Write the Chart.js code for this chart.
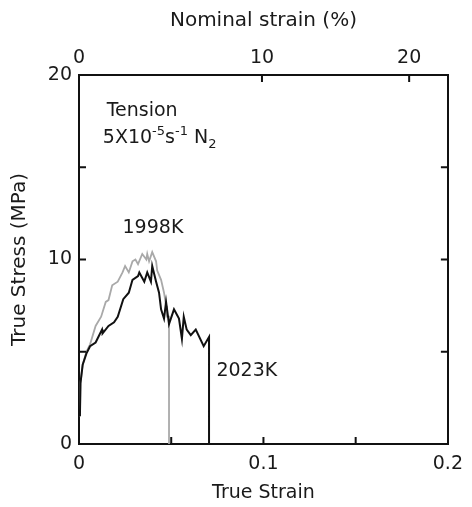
<!DOCTYPE html>
<html>
<head>
<meta charset="utf-8">
<script src="https://cdn.jsdelivr.net/npm/chart.js@4.4.0/dist/chart.umd.min.js"></script>
<style>
  body { margin: 0; background: #fff; }
  #wrap { width: 472px; height: 507px; }
</style>
</head>
<body>
<div id="wrap"><canvas id="stressChart"></canvas></div>
<script>
// --- data ---
const strain2023 = [0.0005, 0.0008, 0.002, 0.004, 0.006, 0.009, 0.0125, 0.0128, 0.016, 0.019, 0.021, 0.024, 0.027, 0.029, 0.032, 0.0327, 0.0354, 0.037, 0.039, 0.0397, 0.0418, 0.0434, 0.0445, 0.0461, 0.0472, 0.0488, 0.0515, 0.0542, 0.0558, 0.0568, 0.0584, 0.0606, 0.0633, 0.0676, 0.0705, 0.0705];
const stress2023 = [1.5, 3.3, 4.3, 4.9, 5.3, 5.5, 6.2, 6.0, 6.4, 6.6, 6.9, 7.85, 8.2, 8.9, 9.1, 9.3, 8.8, 9.3, 8.8, 9.65, 8.8, 8.2, 7.3, 6.8, 7.7, 6.5, 7.3, 6.8, 5.7, 6.9, 6.2, 5.9, 6.2, 5.3, 5.8, 0];

const strain1998 = [0.0005, 0.0008, 0.002, 0.004, 0.006, 0.009, 0.012, 0.0145, 0.016, 0.018, 0.021, 0.0236, 0.025, 0.027, 0.029, 0.0306, 0.032, 0.0343, 0.0365, 0.037, 0.038, 0.0397, 0.0418, 0.0424, 0.0445, 0.0461, 0.0472, 0.0477, 0.0488, 0.0488];
const stress1998 = [1.5, 3.3, 4.3, 5.0, 5.4, 6.4, 6.9, 7.7, 7.8, 8.6, 8.8, 9.3, 9.65, 9.3, 9.9, 10.0, 9.75, 10.3, 10.0, 10.3, 9.9, 10.4, 9.9, 9.4, 8.9, 8.2, 7.5, 6.9, 6.9, 0];

const strainMinor = [0.05, 0.1, 0.15];
const stressMinor = [5, 10, 15];
const nominalTickPos = [0, 0.0992, 0.179];   // where 0, 10, 20 % sit on the true-strain scale
const nominalTickLabels = ['0', '10', '20'];

const FONT = "'DejaVu Sans', sans-serif";
const INK = '#1a1a1a';

const toPoints = (xs, ys) => xs.map((x, i) => ({ x: x, y: ys[i] }));

// inward tick marks on all four sides
const innerTicks = {
    id: 'innerTicks',
    afterDraw: (chart) => {
        const { ctx, chartArea: a, scales } = chart;
        ctx.save();
        ctx.strokeStyle = '#111';
        ctx.lineWidth = 2;
        ctx.beginPath();
        strainMinor.forEach(v => {
            const px = scales.x.getPixelForValue(v);
            ctx.moveTo(px, a.bottom); ctx.lineTo(px, a.bottom - 7);
        });
        nominalTickPos.slice(1).forEach(v => {
            const px = scales.xTop.getPixelForValue(v);
            ctx.moveTo(px, a.top); ctx.lineTo(px, a.top + 7);
        });
        stressMinor.forEach(v => {
            const py = scales.y.getPixelForValue(v);
            ctx.moveTo(a.left, py); ctx.lineTo(a.left + 7, py);
            ctx.moveTo(a.right, py); ctx.lineTo(a.right - 7, py);
        });
        ctx.stroke();
        ctx.restore();
    }
};

// text inside the plot
const notes = {
    id: 'notes',
    afterDraw: (chart) => {
        const { ctx, scales } = chart;
        const X = v => scales.x.getPixelForValue(v);
        const Y = v => scales.y.getPixelForValue(v);
        const runs = (parts, x, y) => {
            parts.forEach(p => {
                ctx.font = p.size + 'px ' + FONT;
                ctx.fillText(p.t, x, y + p.dy);
                x += ctx.measureText(p.t).width;
            });
        };
        ctx.save();
        ctx.fillStyle = INK;
        ctx.textBaseline = 'alphabetic';
        ctx.textAlign = 'left';
        runs([{ t: 'Tension', size: 19, dy: 0 }], X(0.015), Y(17.8));
        runs([
            { t: '5X10', size: 19, dy: 0 },
            { t: '-5', size: 13, dy: -8 },
            { t: 's', size: 19, dy: 0 },
            { t: '-1', size: 13, dy: -8 },
            { t: ' N', size: 19, dy: 0 },
            { t: '2', size: 13, dy: 5 }
        ], X(0.0129), Y(16.3));
        runs([{ t: '1998K', size: 19, dy: 0 }], X(0.0236), Y(11.45));
        runs([{ t: '2023K', size: 19, dy: 0 }], X(0.0745), Y(3.7));
        ctx.restore();
    }
};

const ctx = document.getElementById('stressChart').getContext('2d');
new Chart(ctx, {
    type: 'line',
    data: {
        datasets: [
            {
                label: '2023K',
                data: toPoints(strain2023, stress2023),
                borderColor: '#111',
                borderWidth: 2,
                pointRadius: 0,
                tension: 0
            },
            {
                label: '1998K',
                data: toPoints(strain1998, stress1998),
                borderColor: '#a9a9a9',
                borderWidth: 1.8,
                pointRadius: 0,
                tension: 0
            }
        ]
    },
    options: {
        responsive: true,
        maintainAspectRatio: false,
        animation: false,
        layout: { padding: 0 },
        plugins: { legend: { display: false }, tooltip: { enabled: false } },
        scales: {
            x: {
                type: 'linear', position: 'bottom', min: 0, max: 0.2,
                grid: { display: false, drawTicks: false },
                border: { display: true, color: '#111', width: 2 },
                ticks: {
                    stepSize: 0.1, padding: 9, color: INK, maxRotation: 0,
                    font: { family: FONT, size: 19 },
                    callback: v => String(Number(v.toFixed(2)))
                },
                title: { display: true, text: 'True Strain', color: INK, font: { family: FONT, size: 19 }, padding: { top: 0, bottom: 3 } },
                afterFit: s => { s.height = 63; }
            },
            xTop: {
                type: 'linear', position: 'top', min: 0, max: 0.2,
                grid: { display: false, drawTicks: false },
                border: { display: true, color: '#111', width: 2 },
                afterBuildTicks: s => { s.ticks = nominalTickPos.map(v => ({ value: v })); },
                ticks: {
                    autoSkip: false, padding: 6, color: INK, maxRotation: 0,
                    font: { family: FONT, size: 19 },
                    callback: (v, i) => nominalTickLabels[i]
                },
                title: { display: true, text: 'Nominal strain (%)', color: INK, font: { family: FONT, size: 20 }, padding: { top: 9, bottom: 0 } },
                afterFit: s => { s.height = 75; }
            },
            y: {
                type: 'linear', position: 'left', min: 0, max: 20,
                grid: { display: false, drawTicks: false },
                border: { display: true, color: '#111', width: 2 },
                ticks: { stepSize: 10, padding: 7, color: INK, font: { family: FONT, size: 19 } },
                title: { display: true, text: 'True Stress (MPa)', color: INK, font: { family: FONT, size: 20 }, padding: { top: 8, bottom: 0 } },
                afterFit: s => { s.width = 79; }
            },
            yRight: {
                type: 'linear', position: 'right', min: 0, max: 20,
                grid: { display: false, drawTicks: false },
                border: { display: true, color: '#111', width: 2 },
                ticks: { display: false },
                afterFit: s => { s.width = 20; }
            }
        }
    },
    plugins: [innerTicks, notes]
});
</script>
</body>
</html>
